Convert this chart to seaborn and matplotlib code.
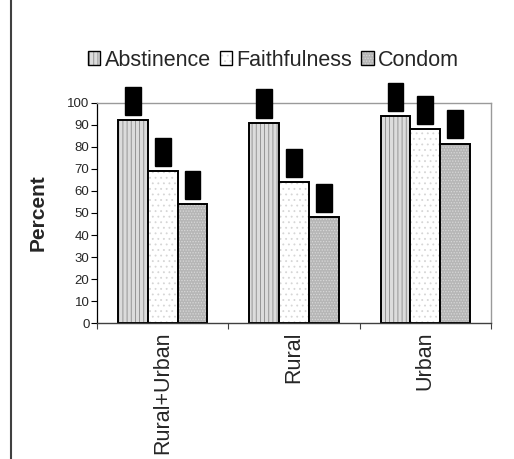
import matplotlib
matplotlib.use("Agg")
import matplotlib.pyplot as plt
import seaborn as sns
import pandas as pd
from matplotlib.patches import Patch
from matplotlib.lines import Line2D
from matplotlib.colors import to_rgba

categories = ["Rural+Urban", "Rural", "Urban"]
methods = ["Abstinence", "Faithfulness", "Condom"]
abstinence = [92, 91, 94]
faithfulness = [69, 64, 88]
condom = [54, 48, 81.5]
yticks = list(range(0, 101, 10))

rows = []
for i, c in enumerate(categories):
    for m, vals in zip(methods, [abstinence, faithfulness, condom]):
        rows.append({"Area": c, "Method": m, "Percent": vals[i]})
df = pd.DataFrame(rows)

sns.set_theme(style="white")
plt.rcParams["font.family"] = ["Liberation Sans", "DejaVu Sans"]
plt.rcParams["hatch.linewidth"] = 0.6

fig = plt.figure(figsize=(5.14, 4.59), dpi=100)
ax = fig.add_axes([0.189, 0.296, 0.766, 0.48])

styles = {
    "Abstinence": dict(face="#dcdcdc", hatch="||||", hc="#8a8a8a"),
    "Faithfulness": dict(face="#ffffff", hatch="...", hc="#d6d6d6"),
    "Condom": dict(face="#b6b6b6", hatch="......", hc="#d8d8d8"),
}
palette = {m: styles[m]["face"] for m in methods}

sns.barplot(data=df, x="Area", y="Percent", hue="Method", order=categories,
            hue_order=methods, palette=palette, width=0.68, ax=ax,
            edgecolor="black", linewidth=1.4, legend=False, saturation=1)

for cont, m in zip(ax.containers, methods):
    for bar in cont:
        bar.set_edgecolor("black")
        bar.set_hatch(styles[m]["hatch"])
        bar._hatch_color = to_rgba(styles[m]["hc"])
    for bar, v in zip(cont, [df[(df.Method == m) & (df.Area == c)].Percent.iloc[0] for c in categories]):
        ax.annotate(f"{v:.0f}%", (bar.get_x() + bar.get_width() / 2, bar.get_height()),
                    xytext=(0, 5), textcoords="offset points", ha="center", va="bottom",
                    rotation=90, fontsize=8.8, color="black", annotation_clip=False,
                    bbox=dict(boxstyle="square,pad=0.15", fc="black", ec="black"))

ax.set_ylim(0, 100)
ax.set_yticks(yticks)
ax.set_yticklabels([str(t) for t in yticks], fontsize=9.5)
ax.set_xlim(-0.5, 2.5)
ax.set_xticks([-0.5, 0.5, 1.5, 2.5])
ax.set_xticklabels([])
ax.set_xticks([0, 1, 2], minor=True)
ax.set_xticklabels(categories, minor=True, rotation=90, fontsize=15.5)
ax.tick_params(axis="x", which="minor", length=0, pad=6)
ax.tick_params(axis="x", which="major", length=4, width=0.8, color="#404040", direction="out", bottom=True)
ax.tick_params(axis="y", length=4, width=0.8, color="black", direction="out", left=True, pad=1.5)
ax.set_xlabel("")
ax.set_ylabel("Percent", fontsize=15, fontweight="bold")
ax.yaxis.set_label_coords(-0.125, 0.5)

for s in ["top", "right"]:
    ax.spines[s].set_color("#9a9a9a")
    ax.spines[s].set_linewidth(1.0)
ax.spines["left"].set_color("black")
ax.spines["left"].set_linewidth(0.9)
ax.spines["bottom"].set_color("#404040")
ax.spines["bottom"].set_linewidth(1.0)

handles = [Patch(facecolor=styles[m]["face"], edgecolor="black", hatch=styles[m]["hatch"], linewidth=1.0)
           for m in methods]
leg = fig.legend(handles, methods, loc="center", bbox_to_anchor=(0.532, 0.869), ncol=3,
                 frameon=False, fontsize=15.5, handlelength=0.6, handleheight=0.6,
                 handletextpad=0.2, columnspacing=0.4)
for p, m in zip(leg.get_patches(), methods):
    p._hatch_color = to_rgba(styles[m]["hc"])

fig.add_artist(Line2D([0.021, 0.021], [0, 1], transform=fig.transFigure, color="#404040", lw=1.5))

fig.savefig("out.png", dpi=100)
